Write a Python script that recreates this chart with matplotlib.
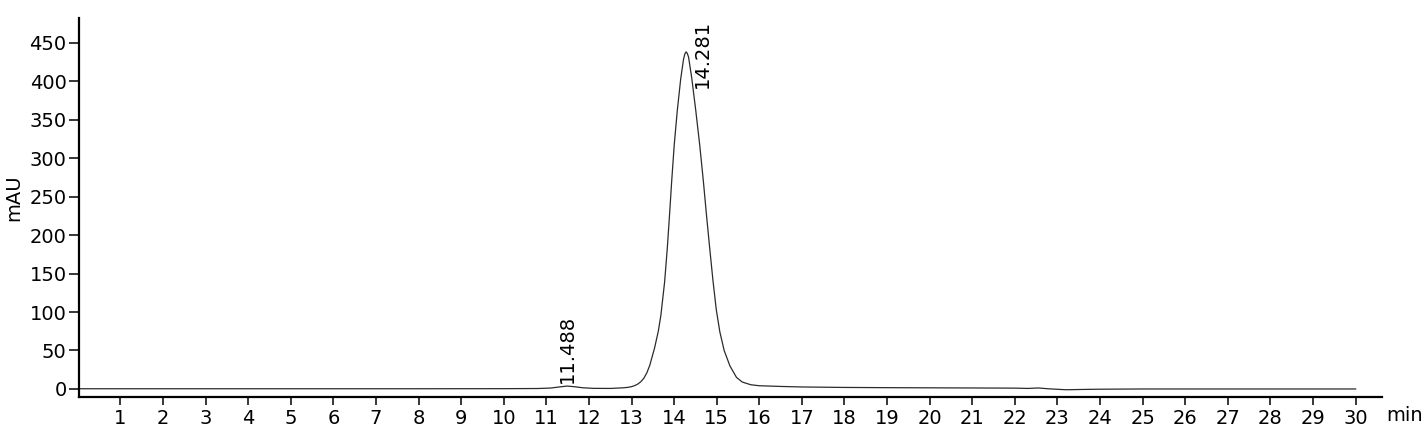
import matplotlib.pyplot as plt

# retention time (min) and detector signal (mAU)
time_min = [0.03, 2, 4, 6, 8, 10, 10.8, 11.1, 11.3, 11.488, 11.65, 11.85, 12.1,
            12.5, 12.8, 12.9, 13.0, 13.08, 13.15, 13.22, 13.29, 13.36, 13.43,
            13.54, 13.627, 13.69, 13.777, 13.84, 13.89, 13.943, 14.004, 14.075,
            14.155, 14.22, 14.25, 14.281, 14.31, 14.34, 14.414, 14.508, 14.603,
            14.69, 14.76, 14.83, 14.91, 14.99, 15.074, 15.175, 15.31, 15.465,
            15.6, 15.8, 16.0, 16.5, 17, 18, 19, 20, 21, 22, 22.3,
            22.55, 22.8, 23.2, 23.6, 24, 25, 26, 28, 30]
signal_mau = [0.3, 0.3, 0.3, 0.3, 0.3, 0.4, 0.6, 1.2, 2.6, 3.8, 3.0, 1.6, 0.8,
              0.7, 1.5, 2.0, 3.0, 4.5, 6.5, 9.5, 14, 21, 31,
              53, 74.5, 96, 139, 183, 224, 270, 318, 362,
              403, 428, 435, 438, 436, 431, 404, 362, 316,
              268, 226, 186, 142, 103, 74, 50, 30, 15,
              9, 5.5, 4.2, 3.3, 2.6, 2.0, 1.7, 1.5, 1.3, 1.1, 0.7,
              1.3, 0.2, -1.0, -0.6, -0.3, 0.0, 0.0, 0.0, 0.0]

peak_labels = ['11.488', '14.281']
peak_label_x = [11.5, 14.66]
peak_label_y = [8, 391]

x_ticks = list(range(1, 31))
y_ticks = list(range(0, 451, 50))

plt.rcParams['font.family'] = 'DejaVu Sans'
fig = plt.figure(figsize=(14.27, 4.44), dpi=100)
ax = fig.add_axes([0.0554, 0.1059, 0.9131, 0.8536])

ax.plot(time_min, signal_mau, color='#2b2b2b', lw=0.9)

for lab, lx, ly in zip(peak_labels, peak_label_x, peak_label_y):
    ax.text(lx, ly, lab, rotation=90, ha='center', va='bottom', fontsize=14)

ax.set_xlim(0.03, 30.62)
ax.set_ylim(-10.4, 482)
ax.set_xticks(x_ticks)
ax.set_yticks(y_ticks)
ax.tick_params(axis='both', labelsize=14, width=1.1, color='black')
ax.tick_params(axis='x', length=6, pad=3)
ax.tick_params(axis='y', length=7, pad=2)

for side in ['top', 'right']:
    ax.spines[side].set_visible(False)
for side in ['left', 'bottom']:
    ax.spines[side].set_linewidth(1.6)

ax.set_ylabel('mAU', fontsize=14)
ax.yaxis.set_label_coords(-0.043, 0.525)
fig.text(0.9715, 1 - 415 / 444, 'min', fontsize=14, va='center', ha='left')

fig.savefig('out.png', dpi=100)
